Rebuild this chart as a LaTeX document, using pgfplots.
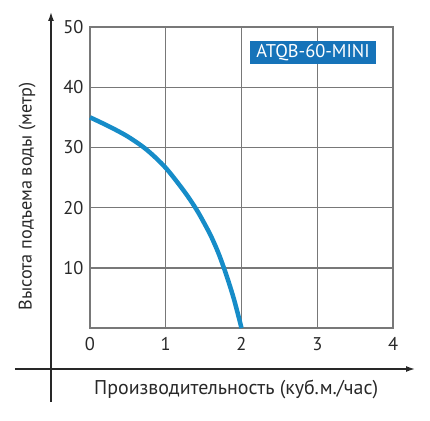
\documentclass[border=0pt]{standalone}
\usepackage{pgfplots}
\pgfplotsset{compat=1.18}
\usepackage{fontspec}
\setmainfont{PT Sans}
\usetikzlibrary{arrows.meta}
\definecolor{curveblue}{RGB}{22,140,200}
\definecolor{boxblue}{RGB}{22,115,185}
\definecolor{gridgray}{RGB}{120,120,120}
\definecolor{txt}{RGB}{40,40,40}

\begin{document}
\begin{tikzpicture}
\begin{axis}[
    scale only axis,
    width=303bp, height=301bp,
    xmin=0, xmax=4, ymin=0, ymax=50,
    xtick={0,1,2,3,4},
    ytick={10,20,30,40,50},
    grid=major,
    grid style={gridgray, line width=1.3pt},
    axis line style={gridgray, line width=1.3pt},
    major tick length=0pt,
    tick label style={font=\fontsize{18.5}{18.5}\selectfont, text=txt},
    /pgf/number format/assume math mode=true,
    yticklabel style={xshift=-3bp},
    xticklabel style={yshift=-6bp},
    clip=false,
]
\addplot[curveblue, line width=4.5pt, smooth] coordinates {
    (0,35.0) (0.25,33.5) (0.5,31.8) (0.75,29.6) (1.0,26.6) (1.25,22.6)
    (1.4,19.8) (1.5,17.6) (1.6,15.2) (1.7,12.3) (1.8,8.8) (1.9,4.8) (2.0,0)
};
% model label
\node[fill=boxblue, text=white, font=\fontsize{18.5}{18.5}\selectfont,
      minimum width=126bp, minimum height=23bp, inner sep=0pt]
      at (axis cs:2.944,45.8) {ATQB-60-MINI};
% outer arrow axes
\draw[txt, line width=1.4pt, -{Latex[length=9bp,width=6bp]}]
    (axis cs:-0.515,-12.3) -- (axis cs:-0.515,52.5);
\draw[txt, line width=1.4pt, -{Latex[length=9bp,width=6bp]}]
    (axis cs:-0.99,-6.8) -- (axis cs:4.29,-6.8);
% axis titles
\node[rotate=90, font=\fontsize{18.3}{18.3}\selectfont, text=txt]
    at (axis cs:-0.83,21.9) {Высота подъема воды (метр)};
\node[font=\fontsize{20}{20}\selectfont, text=txt]
    at (axis cs:1.93,-10.2) {Производительность (куб.м./час)};
\coordinate (tl) at (axis cs:-1.188,54.49);
\coordinate (br) at (axis cs:4.488,-15.28);
\end{axis}
\pgfresetboundingbox
\path[use as bounding box] (tl) rectangle (br);
\end{tikzpicture}
\end{document}
